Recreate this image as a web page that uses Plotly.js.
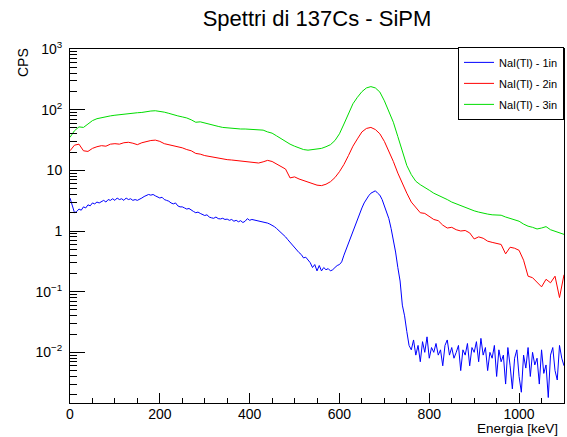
<!DOCTYPE html>
<html>
<head>
<meta charset="utf-8">
<script src="https://cdn.plot.ly/plotly-3.0.1.min.js"></script>
<style>html,body{margin:0;padding:0;background:#fff;}#chart{width:567px;height:437px;}</style>
</head>
<body>
<div id="chart"></div>
<script>
// ---- Data ----
var seriesNames = ["NaI(Tl) - 1in", "NaI(Tl) - 2in", "NaI(Tl) - 3in"];

var energy10 = [0,10,20,30,40,50,60,70,80,90,100,110,120,130,140,150,160,170,180,190,200,210,220,230,240,250,260,270,280,290,300,310,320,330,340,350,360,370,380,390,400,410,420,430,440,450,460,470,480,490,500,510,520,530,540,550,560,570,580,590,600,610,620,630,640,650,660,670,680,690,700,710,720,730,740,750,760,770,780,790,800,810,820,830,840,850,860,870,880,890,900,910,920,930,940,950,960,970,980,990,1000,1010,1020,1030,1040,1050,1060,1070,1080,1090,1100];

var cps3in = [35,45,52,51,58,66,71,74,77,79,81,83,85,86,88,89,90,93,95,96,94,91,87,82,79,76,73,68,62,63,60,57,55,53,51,50,49,48.5,48,48,47.5,47,47,46,43,41,37,33,30,27,25,23.5,22,21.5,22,22.5,23,24.5,26.5,31,40,58,88,125,160,198,228,240,228,195,140,95,62,36,20,12,8.5,6.6,5.8,5.3,4.7,4.2,3.9,3.6,3.3,3.0,2.8,2.6,2.4,2.25,2.15,2.05,1.95,1.9,1.85,1.85,1.82,1.7,1.6,1.52,1.45,1.3,1.2,1.15,1.08,1.12,1.18,1.05,1.0,0.93,0.88];

var cps2in = [21,26,27,21,20.5,23,24.5,25.5,25,27,27.5,27,28.5,29,28,26.5,28.5,30,31,31.5,30,27.5,26.5,25.5,24.5,23.5,22,21,19,18.5,17.5,17,16.5,16,15.2,15,14.8,14.5,14.2,14.2,13.8,13.6,13.2,13.8,14.6,14,12.8,11.8,10.5,7.5,7.8,7.2,6.8,6.3,6.0,5.7,5.6,5.9,6.5,7.6,9.5,12.5,17.5,25,33,43,49,51,47,40,30,21,14,9,6.0,4.2,3.0,2.4,2.0,1.95,1.75,1.55,1.48,1.25,1.12,1.15,1.05,1.0,1.02,0.93,0.74,0.8,0.76,0.68,0.65,0.62,0.6,0.42,0.54,0.52,0.48,0.33,0.18,0.17,0.14,0.12,0.16,0.14,0.18,0.08,0.19];

var energy5 = [0,5,10,15,20,25,30,35,40,45,50,55,60,65,70,75,80,85,90,95,100,105,110,115,120,125,130,135,140,145,150,155,160,165,170,175,180,185,190,195,200,205,210,215,220,225,230,235,240,245,250,255,260,265,270,275,280,285,290,295,300,305,310,315,320,325,330,335,340,345,350,355,360,365,370,375,380,385,390,395,400,405,410,415,420,425,430,435,440,445,450,455,460,465,470,475,480,485,490,495,500,505,510,515,520,525,530,535,540,545,550,555,560,565,570,575,580,585,590,595,600,605,610,615,620,625,630,635,640,645,650,655,660,665,670,675,680,685,690,695,700,705,710,715,720,725,730,735,740,745,750,755,760,765,770,775,780,785,790,795,800,805,810,815,820,825,830,835,840,845,850,855,860,865,870,875,880,885,890,895,900,905,910,915,920,925,930,935,940,945,950,955,960,965,970,975,980,985,990,995,1000,1005,1010,1015,1020,1025,1030,1035,1040,1045,1050,1055,1060,1065,1070,1075,1080,1085,1090,1095,1100];

var cps1in = [3.5,2.6,2.0,2.1,2.3,2.2,2.5,2.4,2.7,2.6,2.9,2.8,3.0,2.9,3.1,3.2,3.0,3.3,3.2,3.4,3.2,3.5,3.3,3.4,3.2,3.5,3.3,3.4,3.2,3.3,3.2,3.4,3.5,3.7,3.8,4.0,3.9,4.0,3.8,3.7,3.5,3.6,3.3,3.2,3.1,2.9,2.8,2.9,2.6,2.5,2.5,2.4,2.3,2.35,2.2,2.1,2.0,2.05,1.95,1.9,1.8,1.85,1.7,1.65,1.62,1.7,1.6,1.58,1.62,1.55,1.57,1.5,1.55,1.45,1.5,1.42,1.48,1.38,1.45,1.6,1.5,1.55,1.52,1.5,1.48,1.45,1.4,1.38,1.35,1.3,1.25,1.18,1.1,1.02,0.95,0.88,0.8,0.72,0.65,0.58,0.52,0.48,0.44,0.41,0.36,0.37,0.33,0.3,0.25,0.28,0.22,0.27,0.22,0.25,0.23,0.24,0.22,0.23,0.25,0.27,0.28,0.31,0.4,0.5,0.62,0.8,1.05,1.3,1.6,2.0,2.4,2.9,3.4,3.8,4.2,4.4,4.6,4.2,3.9,3.3,2.6,2.0,1.6,1.1,0.75,0.45,0.25,0.15,0.06,0.04,0.022,0.013,0.011,0.016,0.009,0.013,0.007,0.015,0.010,0.018,0.008,0.012,0.010,0.014,0.009,0.011,0.006,0.013,0.016,0.009,0.012,0.008,0.010,0.013,0.005,0.011,0.009,0.014,0.006,0.012,0.010,0.015,0.007,0.017,0.009,0.012,0.005,0.010,0.008,0.013,0.004,0.011,0.007,0.009,0.003,0.012,0.006,0.0025,0.008,0.011,0.004,0.0022,0.009,0.0055,0.012,0.004,0.010,0.0062,0.008,0.003,0.011,0.0045,0.0062,0.0018,0.009,0.012,0.005,0.0035,0.013,0.008,0.006];

var yTickVals = [1000, 100, 10, 1, 0.1, 0.01];
var yTickText = ["10<sup>3</sup>", "10<sup>2</sup>", "10", "1", "10<sup>\u22121</sup>", "10<sup>\u22122</sup>"];
var chartTitle = "Spettri di 137Cs - SiPM";
var xTitle = "Energia [keV]";
var yTitle = "CPS";

// ---- Minor tick positions for the log axis (axis decoration) ----
var yMinor = [];
[0.001, 0.01, 0.1, 1, 10, 100].forEach(function (d) {
  for (var k = 2; k <= 9; k++) yMinor.push(k * d);
});

var font = "Liberation Sans, Arial, Helvetica, sans-serif";

var traces = [
  {x: energy5, y: cps1in, name: seriesNames[0], type: "scatter", mode: "lines",
   line: {color: "#0000ff", width: 1}, legendgroup: "a"},
  {x: energy10, y: cps2in, name: seriesNames[1], type: "scatter", mode: "lines",
   line: {color: "#ff0000", width: 1}, legendgroup: "b"},
  {x: energy10, y: cps3in, name: seriesNames[2], type: "scatter", mode: "lines",
   line: {color: "#00dd00", width: 1}, legendgroup: "c"}
];

var layout = {
  width: 567, height: 437,
  margin: {l: 70, r: 3, t: 49, b: 34, pad: 0},
  paper_bgcolor: "#ffffff", plot_bgcolor: "#ffffff",
  font: {family: font, size: 14, color: "#000"},
  title: {text: chartTitle, font: {family: font, size: 22, color: "#000"},
          xref: "paper", x: 0.5, xanchor: "center",
          yref: "container", y: 1 - 18 / 437, yanchor: "middle"},
  xaxis: {
    range: [0, 1100], showgrid: false, zeroline: false,
    showline: true, linecolor: "#000", linewidth: 1, mirror: true,
    ticks: "inside", ticklen: 10, tickcolor: "#000", tickwidth: 1,
    dtick: 200, tick0: 0, tickfont: {size: 14, family: font}, ticklabelstandoff: -2,
    minor: {dtick: 50, ticks: "inside", ticklen: 5, tickcolor: "#000", showgrid: false}
  },
  yaxis: {
    type: "log", range: [-2.835, 3], showgrid: false, zeroline: false,
    showline: true, linecolor: "#000", linewidth: 1, mirror: true,
    ticks: "inside", ticklen: 15, tickcolor: "#000", tickwidth: 1,
    tickmode: "array", tickvals: yTickVals, ticktext: yTickText,
    tickfont: {size: 14, family: font}, ticklabelstandoff: 4,
    minor: {tickmode: "array", tickvals: yMinor, ticks: "inside", ticklen: 7,
            tickcolor: "#000", showgrid: false}
  },
  showlegend: true,
  legend: {x: 1, xanchor: "right", y: 1.006, yanchor: "top",
           bgcolor: "#ffffff", bordercolor: "#000", borderwidth: 1,
           font: {family: font, size: 11, color: "#000"},
           tracegroupgap: 2, itemwidth: 30},
  annotations: [
    {text: xTitle, xref: "paper", yref: "paper", x: (560 - 70) / 494, y: -(428.5 - 403) / 354,
     xanchor: "right", yanchor: "middle", showarrow: false, font: {family: font, size: 13.5}},
    {text: yTitle, xref: "paper", yref: "paper", x: (23 - 70) / 494, y: 1 - (63 - 49) / 354,
     xanchor: "center", yanchor: "middle", textangle: -90, showarrow: false, font: {family: font, size: 14}}
  ]
};

Plotly.newPlot("chart", traces, layout, {displayModeBar: false, staticPlot: true});
</script>
</body>
</html>
